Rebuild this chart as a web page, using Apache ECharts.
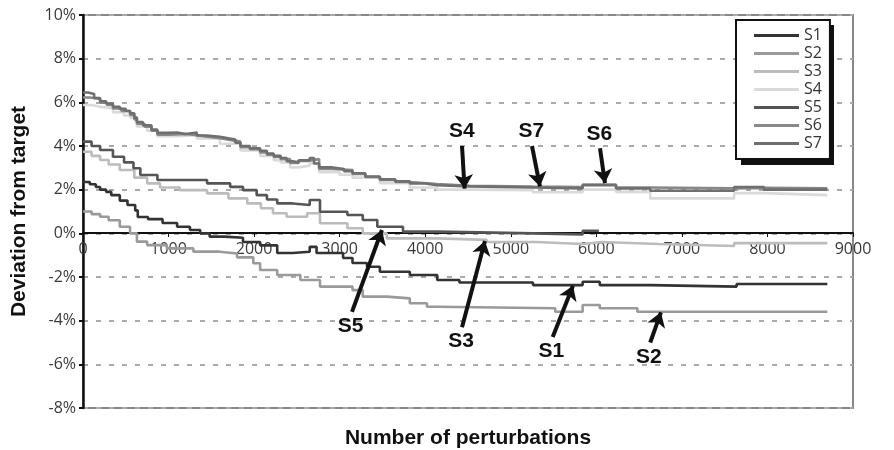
<!DOCTYPE html>
<html>
<head>
<meta charset="utf-8">
<script src="https://cdn.jsdelivr.net/npm/echarts@6/dist/echarts.min.js"></script>
<style>
  html, body { margin: 0; padding: 0; background: #fff; }
  #main { width: 894px; height: 450px; }
</style>
</head>
<body>
<div id="main"></div>
<script>
    var myChart = echarts.init(document.getElementById('main'));

    // 系列名 + 颜色
    var names = ['S1', 'S2', 'S3', 'S4', 'S5', 'S6', 'S7'];
    var colors = ['#333333', '#9a9a9a', '#bcbcbc', '#dadada', '#555555', '#888888', '#6f6f6f'];

    // 各系列 [扰动次数, 偏差%]（阶梯）
    var s1 = [[0, 2.35], [80, 2.25], [150, 2.12], [200, 2.0], [270, 1.9], [330, 1.75], [430, 1.5], [520, 1.3],
        [610, 1.05], [640, 0.75], [760, 0.65], [930, 0.47], [1100, 0.3], [1250, 0.15],
        [1370, 0], [1480, -0.15], [1650, -0.2], [1870, -0.4], [2070, -0.55], [2270, -0.9], [2450, -0.84], [2650, -0.62],
        [2730, -0.9], [3040, -1.13], [3150, -1.36], [3320, -1.53], [3470, -1.76], [3820, -1.91], [4140, -2.14],
        [4400, -2.25], [5260, -2.37], [5840, -2.22], [6040, -2.37], [6630, -2.44], [7640, -2.32], [8700, -2.32]];
    var s2 = [[0, 1.0], [100, 0.88], [200, 0.76], [300, 0.6], [430, 0.3], [550, 0], [630, -0.38], [750, -0.54], [980, -0.69],
        [1290, -0.84], [1600, -0.92], [1800, -1.1], [1990, -1.37], [2070, -1.68], [2270, -1.91], [2540, -2.14],
        [2770, -2.44], [3150, -2.6], [3270, -2.9], [3550, -2.98], [3820, -3.2], [4020, -3.36], [4140, -3.43],
        [5520, -3.59], [5840, -3.28], [6040, -3.43], [6480, -3.59], [8700, -3.59]];
    var s3 = [[0, 3.74], [100, 3.55], [200, 3.36], [300, 3.15], [430, 2.9], [600, 2.55], [750, 2.29], [900, 2.1],
        [1130, 1.98], [1450, 1.83], [1700, 1.6], [1920, 1.37], [2080, 1.15],
        [2220, 0.92], [2380, 0.76], [2620, 0.92], [2770, 0.46], [3090, 0.23], [3270, 0], [3550, -0.23],
        [4140, -0.3], [4720, -0.4], [5300, -0.49], [5840, -0.4], [6060, -0.49], [6730, -0.58], [7610, -0.45],
        [8700, -0.45]];
    var s4 = [[0, 5.88], [100, 5.8], [200, 5.72], [350, 5.55], [480, 5.4], [550, 5.3], [630, 4.9], [750, 4.7],
        [870, 4.45], [1100, 4.5], [1330, 4.35], [1600, 4.1], [1840, 3.8], [2070, 3.55], [2230, 3.35],
        [2310, 3.25], [2420, 3.02], [2520, 3.1], [2650, 3.2], [2760, 2.8], [3000, 2.68], [3150, 2.55],
        [3470, 2.3], [3820, 2.1], [4140, 2.0], [4520, 1.98], [5260, 1.88], [5840, 2.0], [6230, 1.9],
        [6630, 1.6], [7610, 1.84], [7960, 1.75], [8700, 1.75]];
    var s5 = [[0, 4.2], [100, 4.0], [200, 3.82], [350, 3.51], [480, 3.25], [590, 2.98], [670, 2.67], [870, 2.44], [1450, 2.29],
        [1720, 2.13], [1870, 1.98], [2030, 1.75], [2150, 1.55], [2270, 1.37], [2450, 1.3], [2650, 1.53], [2770, 0.99],
        [3090, 0.84], [3270, 0.61], [3440, 0.3], [3740, 0.08], [4140, 0], [5260, -0.05], [5840, 0.12],
        [6030, 0.12]];
    var s6 = [[0, 6.22], [80, 6.15], [200, 5.98], [280, 5.88], [350, 5.72], [450, 5.6], [550, 5.42],
        [600, 5.22], [630, 5.02], [720, 4.88], [800, 4.7], [870, 4.52], [1000, 4.55], [1200, 4.5],
        [1330, 4.42], [1450, 4.36], [1600, 4.28], [1720, 4.2], [1840, 3.95], [1950, 3.85], [2070, 3.7],
        [2150, 3.6], [2230, 3.5], [2310, 3.4], [2420, 3.22], [2520, 3.32], [2650, 3.4], [2760, 2.95],
        [2900, 2.9], [3150, 2.72], [3300, 2.58], [3470, 2.45], [3650, 2.35], [3820, 2.26], [4140, 2.18],
        [4520, 2.14], [5260, 2.12], [5840, 2.24], [6230, 2.1], [6630, 2.06], [7610, 2.08], [7960, 2.06],
        [8700, 2.06]];
    var s7 = [[0, 6.45], [60, 6.38], [130, 6.2], [200, 6.05], [270, 5.95], [350, 5.8], [430, 5.7],
        [500, 5.6], [550, 5.5], [600, 5.3], [630, 5.1], [700, 4.95], [800, 4.75], [870, 4.6], [1000, 4.62],
        [1100, 4.55], [1200, 4.62], [1330, 4.48], [1450, 4.42], [1600, 4.35], [1700, 4.3], [1780, 4.15],
        [1840, 4.0], [1950, 3.9], [2070, 3.78], [2150, 3.65], [2230, 3.55], [2310, 3.45], [2380, 3.3],
        [2450, 3.25], [2520, 3.35], [2650, 3.45], [2700, 3.2], [2760, 3.02], [2900, 2.95], [3050, 2.85],
        [3150, 2.75], [3300, 2.6], [3470, 2.48], [3650, 2.38], [3820, 2.28], [4000, 2.2], [4140, 2.15],
        [4520, 2.1], [5260, 2.06], [5840, 2.2], [6230, 2.06], [6630, 1.95], [7610, 2.12], [7960, 2.0],
        [8700, 2.0]];
    var seriesData = [s1, s2, s3, s4, s5, s6, s7];

    // 箭头标注：[起点, 终点]
    var arrows = {
        S1: [[5490, -4.75], [5727, -2.4]],
        S2: [[6630, -5.0], [6755, -3.62]],
        S3: [[4430, -4.3], [4698, -0.35]],
        S4: [[4430, 4.0], [4460, 2.05]],
        S5: [[3144, -3.6], [3494, 0.15]],
        S6: [[6043, 3.9], [6101, 2.3]],
        S7: [[5248, 4.0], [5341, 2.15]]
    };

    var series = names.map(function (n, i) {
        var s = {
            name: n,
            type: 'line',
            step: 'end',
            symbol: 'none',
            data: seriesData[i],
            lineStyle: {color: colors[i], width: 2.6},
            itemStyle: {color: colors[i]},
            z: 3
        };
        s.markLine = {
            silent: true,
            symbol: ['none', 'arrow'],
            symbolSize: 14,
            lineStyle: {color: '#111', width: 4, type: 'solid'},
            label: {
                show: true,
                position: 'start',
                formatter: n,
                fontFamily: 'Liberation Sans, Arial',
                fontWeight: 'bold',
                fontSize: 21,
                color: '#111',
                distance: 4
            },
            data: [[{coord: arrows[n][0]}, {coord: arrows[n][1]}]]
        };
        return s;
    });

    option = {
        animation: false,
        backgroundColor: '#fff',
        grid: {
            left: 83, right: 41, top: 15, bottom: 42,
            outerBoundsMode: 'none',
            containLabel: false,
            show: true, borderColor: '#888', borderWidth: 2
        },
        // 图例阴影
        graphic: [{
            type: 'rect',
            left: 741, top: 25,
            shape: {width: 93, height: 140},
            style: {fill: '#111'},
            z: 1
        }],
        legend: {
            orient: 'vertical',
            left: 736,
            top: 20,
            z: 10,
            data: names,
            icon: 'rect',
            backgroundColor: '#fff',
            borderColor: '#111',
            borderWidth: 2,
            padding: [7, 8, 7, 18],
            itemWidth: 45,
            itemHeight: 3,
            itemGap: 1,
            textStyle: {fontFamily: 'Open Sans', fontSize: 16, color: '#333', lineHeight: 17}
        },
        xAxis: {
            type: 'value',
            min: 0, max: 9000, interval: 1000,
            name: 'Number of perturbations',
            nameLocation: 'middle',
            nameGap: 195,
            offset: -175,
            nameTextStyle: {fontFamily: 'Liberation Sans, Arial', fontWeight: 'bold', fontSize: 21, color: '#111'},
            axisLine: {onZero: false, lineStyle: {color: '#111', width: 2}},
            axisTick: {show: true, length: 4, lineStyle: {color: '#111'}},
            axisLabel: {
                formatter: function (v) { return String(v); },
                fontFamily: 'Open Sans', fontSize: 16, color: '#3a3a3a', margin: 8
            },
            splitLine: {show: false}
        },
        yAxis: {
            type: 'value',
            min: -8, max: 10, interval: 2,
            name: 'Deviation from target',
            nameLocation: 'middle',
            nameGap: 53,
            nameTextStyle: {fontFamily: 'Liberation Sans, Arial', fontWeight: 'bold', fontSize: 21, color: '#111'},
            axisLine: {show: true, lineStyle: {color: '#111', width: 2.5}},
            axisTick: {show: true, length: 4, lineStyle: {color: '#111', width: 2}},
            axisLabel: {formatter: '{value}%', fontFamily: 'Open Sans', fontSize: 16, color: '#3a3a3a', margin: 7},
            splitLine: {show: true, lineStyle: {color: '#aaa', type: [5, 8], width: 2}}
        },
        series: series
    };

    myChart.setOption(option);
</script>
</body>
</html>
